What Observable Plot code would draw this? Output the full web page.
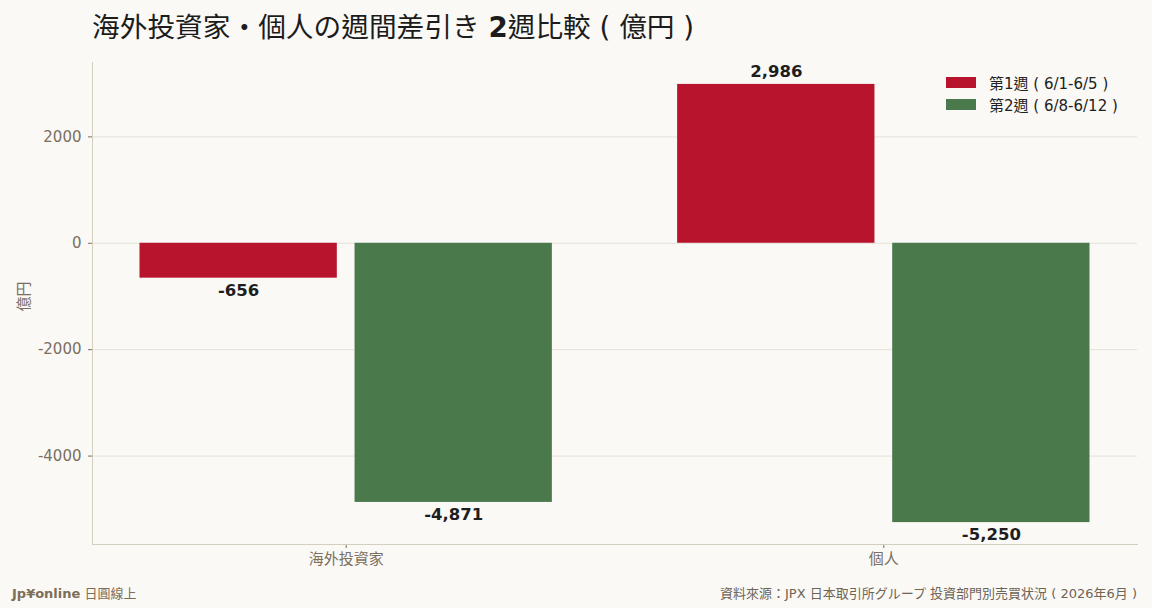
<!DOCTYPE html>
<html><head><meta charset="utf-8">
<script src="https://cdn.jsdelivr.net/npm/d3@7"></script>
<script src="https://cdn.jsdelivr.net/npm/@observablehq/plot@0.6"></script>
<style>
body{margin:0;background:#faf9f6;font-family:"DejaVu Sans","Noto Sans CJK TC",sans-serif;}
#wrap{position:relative;width:1152px;height:608px;background:#faf9f6;overflow:hidden;}
#title{position:absolute;left:92px;top:8px;font-size:27.7px;color:#1c1c1c;white-space:pre;line-height:40px;}
#title b{font-weight:bold;}
#chart{position:absolute;left:0;top:50px;}
#legend{position:absolute;left:946px;top:71px;font-size:15px;color:#222;}
.row{display:flex;align-items:center;height:22px;white-space:pre;}
.sw{width:30px;height:11px;margin-right:13px;}
#fl{position:absolute;left:12px;top:584px;font-size:13px;color:#7d6e57;line-height:20px;white-space:pre;}
#fl b{font-weight:bold;}
#fr{position:absolute;right:15px;top:584px;font-size:13px;color:#6e6455;line-height:20px;white-space:pre;}
</style></head>
<body>
<div id="wrap">
  <div id="title">海外投資家・個人の週間差引き <b>2</b>週比較 ( 億円 )</div>
  <div id="chart"></div>
  <div id="legend"></div>
  <div id="fl"><b>Jp¥online</b> 日圓線上</div>
  <div id="fr">資料來源：JPX 日本取引所グループ 投資部門別売買状況 ( 2026年6月 )</div>
</div>
<script>
const categories = ["海外投資家", "個人"];
const weeks = ["第1週 ( 6/1-6/5 )", "第2週 ( 6/8-6/12 )"];
const week1 = [-656, 2986];
const week2 = [-4871, -5250];
const colors = ["#b8142d", "#4a7a4b"];
const yTicks = [-4000, -2000, 0, 2000];
const yLabel = "億円";

// grouped-bar layout in category units (like matplotlib: offset ±0.2, width 0.367)
const barOffset = [-0.2, 0.2];
const barWidth = 0.367;
const series = [week1, week2];
const rows = categories.flatMap((c, i) => series.map((s, j) => ({
  category: c, week: weeks[j], value: s[i],
  xc: i + barOffset[j]
})));
const fmt = d => d.value.toLocaleString("en-US");
const pad = 0.05;
const xmin = -0.2 - barWidth / 2, xmax = (categories.length - 1) + 0.2 + barWidth / 2;
const ymin = Math.min(0, ...week1, ...week2), ymax = Math.max(0, ...week1, ...week2);
const font = '"DejaVu Sans","Noto Sans CJK TC",sans-serif';

const chart = Plot.plot({
  width: 1152, height: 525,
  marginTop: 12, marginBottom: 31, marginLeft: 92, marginRight: 15,
  style: {background: "transparent", fontFamily: font, fontSize: "14.5px", color: "#7b6f5e"},
  x: {domain: [xmin - pad * (xmax - xmin), xmax + pad * (xmax - xmin)]},
  y: {domain: [ymin - pad * (ymax - ymin), ymax + pad * (ymax - ymin)]},
  color: {domain: weeks, range: colors},
  marks: [
    Plot.ruleY(yTicks, {stroke: "#e6e1d8", strokeWidth: 1}),
    Plot.rectY(rows, {x1: d => d.xc - barWidth / 2, x2: d => d.xc + barWidth / 2, y1: 0, y2: "value", fill: "week"}),
    Plot.text(rows.filter(d => d.value >= 0), {x: "xc", y: "value", text: fmt, lineAnchor: "bottom", dy: -7, fontWeight: "bold", fontSize: 16.5, fill: "#1e1e1e"}),
    Plot.text(rows.filter(d => d.value < 0), {x: "xc", y: "value", text: fmt, lineAnchor: "top", dy: 6, fontWeight: "bold", fontSize: 16.5, fill: "#1e1e1e"}),
    Plot.axisY({ticks: yTicks, tickFormat: d => String(d), tickSize: 4, tickPadding: 7, label: null, fontSize: 15}),
    Plot.text([yLabel], {frameAnchor: "left", rotate: -90, dx: -68, dy: 8, fill: "#7b6f5e", fontSize: 15}),
    Plot.axisX({ticks: categories.map((c, i) => i), tickFormat: i => categories[i], tickSize: 4, tickPadding: 5, label: null, fontSize: 15}),
    Plot.frame({anchor: "left", stroke: "#d5cfc0"}),
    Plot.frame({anchor: "bottom", stroke: "#d5cfc0"})
  ]
});
document.getElementById("chart").appendChild(chart);

const legend = document.getElementById("legend");
weeks.forEach((w, i) => {
  const r = document.createElement("div");
  r.className = "row";
  r.innerHTML = `<div class="sw" style="background:${colors[i]}"></div><span>${w}</span>`;
  legend.appendChild(r);
});
</script>
</body></html>
